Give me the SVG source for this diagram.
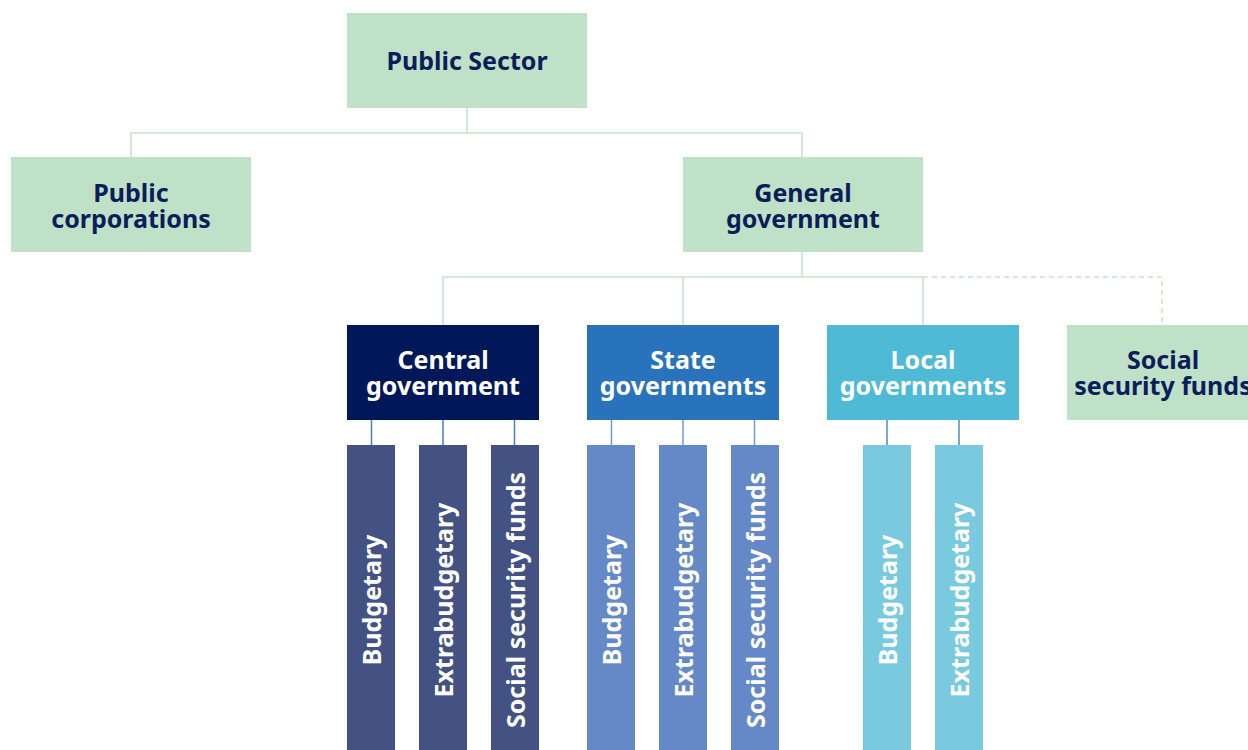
<svg xmlns="http://www.w3.org/2000/svg" width="1248" height="750" viewBox="0 0 1248 750">
<style>
.t{font-family:"Noto Sans","Liberation Sans",sans-serif;font-weight:700;font-size:25px;text-anchor:middle}
.dk{fill:#0c1d5a}
.wt{fill:#ffffff}
.g{fill:#bfe1c8}
.c{stroke:#c4e3cc;stroke-width:1.5;fill:none}
.cd{stroke:#c4e3cc;stroke-width:1.5;fill:none;stroke-dasharray:5 4}
.s1{stroke:#4a7fc0;stroke-width:1.5}
.s2{stroke:#6d9fd3;stroke-width:1.5}
.s3{stroke:#4a8ec8;stroke-width:1.5}
</style>
<rect width="1248" height="750" fill="#ffffff"/>
<g id="connectors">
<path class="c" d="M467 108V133M131 157V133H802V157"/>
<path class="c" d="M802 252V277M443 325V277H923M683 277V325M923 277V325"/>
<path class="cd" d="M923 277H1162V325"/>
<path class="s1" d="M371.5 420V445M443 420V445M514.5 420V445"/>
<path class="s2" d="M611.5 420V445M683 420V445M754.5 420V445"/>
<path class="s3" d="M887 420V445M959 420V445"/>
</g>
<g id="public-sector"><rect class="g" x="347" y="13" width="240" height="95"/><text class="t dk" x="467" y="70">Public Sector</text></g>
<g id="public-corporations"><rect class="g" x="11" y="157" width="240" height="95"/><text class="t dk" x="131" y="202">Public</text><text class="t dk" x="131" y="228">corporations</text></g>
<g id="general-government"><rect class="g" x="683" y="157" width="240" height="95"/><text class="t dk" x="803" y="202">General</text><text class="t dk" x="803" y="228">government</text></g>
<g id="central-government"><rect fill="#00175a" x="347" y="325" width="192" height="95"/><text class="t wt" x="443" y="369">Central</text><text class="t wt" x="443" y="395">government</text></g>
<g id="state-governments"><rect fill="#2873bb" x="587" y="325" width="192" height="95"/><text class="t wt" x="683" y="369">State</text><text class="t wt" x="683" y="395">governments</text></g>
<g id="local-governments"><rect fill="#4fbad6" x="827" y="325" width="192" height="95"/><text class="t wt" x="923" y="369">Local</text><text class="t wt" x="923" y="395">governments</text></g>
<g id="social-security-funds"><rect class="g" x="1067" y="325" width="192" height="95"/><text class="t dk" x="1163" y="369">Social</text><text class="t dk" x="1163" y="395">security funds</text></g>
<g id="central-budgetary"><rect fill="#435283" x="347" y="445" width="48" height="305"/><text class="t wt" transform="translate(381 600) rotate(-90)">Budgetary</text></g>
<g id="central-extrabudgetary"><rect fill="#435283" x="419" y="445" width="48" height="305"/><text class="t wt" transform="translate(453 600) rotate(-90)">Extrabudgetary</text></g>
<g id="central-social"><rect fill="#435283" x="491" y="445" width="48" height="305"/><text class="t wt" transform="translate(525 600) rotate(-90)">Social security funds</text></g>
<g id="state-budgetary"><rect fill="#6589c6" x="587" y="445" width="48" height="305"/><text class="t wt" transform="translate(621 600) rotate(-90)">Budgetary</text></g>
<g id="state-extrabudgetary"><rect fill="#6589c6" x="659" y="445" width="48" height="305"/><text class="t wt" transform="translate(693 600) rotate(-90)">Extrabudgetary</text></g>
<g id="state-social"><rect fill="#6589c6" x="731" y="445" width="48" height="305"/><text class="t wt" transform="translate(765 600) rotate(-90)">Social security funds</text></g>
<g id="local-budgetary"><rect fill="#79cadf" x="863" y="445" width="48" height="305"/><text class="t wt" transform="translate(897 600) rotate(-90)">Budgetary</text></g>
<g id="local-extrabudgetary"><rect fill="#79cadf" x="935" y="445" width="48" height="305"/><text class="t wt" transform="translate(969 600) rotate(-90)">Extrabudgetary</text></g>
</svg>
